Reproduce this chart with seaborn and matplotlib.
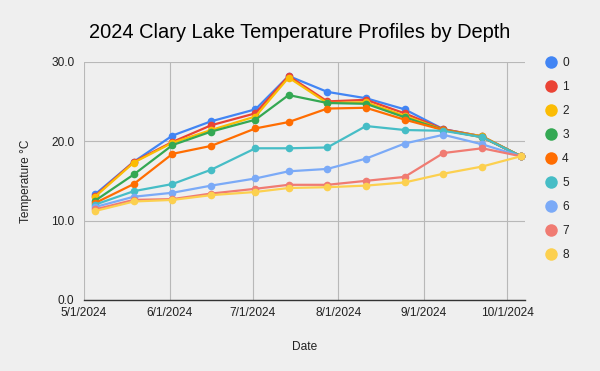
import matplotlib
matplotlib.use("Agg")
import matplotlib.pyplot as plt
from matplotlib.lines import Line2D
import seaborn as sns
import pandas as pd

dates = ["2024-05-05", "2024-05-19", "2024-06-02", "2024-06-16", "2024-07-02", "2024-07-14",
         "2024-07-28", "2024-08-11", "2024-08-25", "2024-09-08", "2024-09-22", "2024-10-06"]
depths = ["0", "1", "2", "3", "4", "5", "6", "7", "8"]
d0 = [13.3, 17.4, 20.7, 22.5, 24.0, 28.2, 26.2, 25.4, 24.0, 21.5, 20.6, 18.1]
d1 = [13.1, 17.4, 19.9, 22.0, 23.5, 28.2, 25.0, 25.2, 23.5, 21.5, 20.6, 18.1]
d2 = [13.0, 17.3, 19.8, 21.4, 23.1, 28.0, 24.8, 24.9, 23.2, 21.4, 20.6, 18.1]
d3 = [12.5, 15.8, 19.5, 21.2, 22.7, 25.8, 24.8, 24.7, 23.0, 21.4, 20.5, 18.1]
d4 = [12.2, 14.6, 18.4, 19.4, 21.6, 22.4, 24.1, 24.2, 22.7, 21.4, 20.5, 18.1]
d5 = [12.0, 13.7, 14.6, 16.4, 19.1, 19.1, 19.2, 21.9, 21.4, 21.3, 20.5, 18.1]
d6 = [11.7, 13.0, 13.5, 14.4, 15.3, 16.2, 16.5, 17.8, 19.7, 20.8, 19.6, 18.1]
d7 = [11.4, 12.6, 12.7, 13.4, 14.0, 14.5, 14.5, 15.0, 15.5, 18.5, 19.1, 18.1]
d8 = [11.2, 12.4, 12.6, 13.2, 13.6, 14.1, 14.2, 14.4, 14.8, 15.9, 16.8, 18.1]
series = [d0, d1, d2, d3, d4, d5, d6, d7, d8]
colors = ["#4285F4", "#EA4335", "#FBBC04", "#34A853", "#FF6D01",
          "#46BDC6", "#7BAAF7", "#F07B72", "#FCD04F"]
yticks = [0, 10, 20, 30]
xtick_dates = ["2024-05-01", "2024-06-01", "2024-07-01", "2024-08-01", "2024-09-01", "2024-10-01"]

rows = []
for dep, vals in zip(depths, series):
    for d, v in zip(dates, vals):
        rows.append({"Date": pd.Timestamp(d), "Temp": v, "Depth": dep})
df = pd.DataFrame(rows)

sns.set_style("white")
plt.rcParams["font.family"] = ["Liberation Sans", "DejaVu Sans"]
bg = "#efefef"
fig = plt.figure(figsize=(6, 3.71), dpi=100, facecolor=bg)
ax = fig.add_axes([0.14, 0.1914, 0.735, 0.6423])
ax.set_facecolor(bg)

sns.lineplot(data=df, x="Date", y="Temp", hue="Depth", hue_order=depths,
             palette=dict(zip(depths, colors)), marker="o", markersize=5.5,
             markeredgewidth=0, linewidth=1.6, legend=False, ax=ax, zorder=3)

ax.set_ylim(0, 30)
ax.set_yticks(yticks)
ax.set_yticklabels([f"{t:.1f}" for t in yticks])
ax.set_xlim(pd.Timestamp("2024-05-01"), pd.Timestamp("2024-10-07 12:00"))
ax.set_xticks([pd.Timestamp(t) for t in xtick_dates])
ax.set_xticklabels([f"{pd.Timestamp(t).month}/{pd.Timestamp(t).day}/{pd.Timestamp(t).year}" for t in xtick_dates])

ax.grid(True, color="#b8b8b8", linewidth=0.8, zorder=0)
ax.set_axisbelow(True)
for s in ["top", "right", "left"]:
    ax.spines[s].set_visible(False)
ax.spines["bottom"].set_color("#333333")
ax.spines["bottom"].set_linewidth(1.0)
ax.tick_params(axis="both", length=0, labelsize=8.6, colors="#222222")
ax.tick_params(axis="x", pad=5)
ax.tick_params(axis="y", pad=7)

ax.set_xlabel("Date", fontsize=8.6, color="#222222", labelpad=16)
ax.set_ylabel("Temperature °C", fontsize=8.6, color="#222222", labelpad=14)
fig.suptitle("2024 Clary Lake Temperature Profiles by Depth", fontsize=14.4,
             color="#000000", y=0.937)

handles = [Line2D([], [], marker="o", linestyle="", color=c, markersize=9,
                  markeredgewidth=0) for c in colors]
leg = fig.legend(handles, depths, loc="upper left", bbox_to_anchor=(0.9, 0.858),
                 frameon=False, fontsize=8.6, handletextpad=0.45,
                 labelspacing=1.0, borderaxespad=0, handlelength=1.0)
for t in leg.get_texts():
    t.set_color("#222222")

fig.savefig("out.png", dpi=100, facecolor=bg)
